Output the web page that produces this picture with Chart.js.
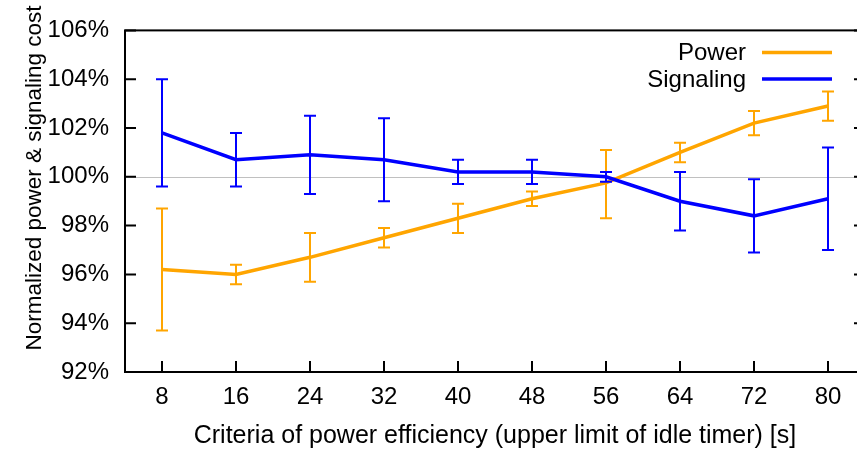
<!DOCTYPE html>
<html>
<head>
<meta charset="utf-8">
<title>Normalized power & signaling cost</title>
<script src="https://cdn.jsdelivr.net/npm/chart.js@4.4.1/dist/chart.umd.min.js"></script>
<style>
    html, body { margin: 0; padding: 0; background: #fff; overflow: hidden; }
    #wrap { width: 857px; height: 450px; overflow: hidden; }
    canvas { display: block; }
</style>
</head>
<body>
<div id="wrap"><canvas id="costChart" width="880" height="450"></canvas></div>
<script>
// upper limit of idle timer [s]
const timerLimits = [8, 16, 24, 32, 40, 48, 56, 64, 72, 80];

// normalized power cost [%] with error range
const powerCost = [96.2, 96.0, 96.7, 97.5, 98.3, 99.1, 99.75, 101.0, 102.2, 102.9];
const powerLow  = [93.7, 95.6, 95.7, 97.1, 97.7, 98.8, 98.3, 100.6, 101.7, 102.3];
const powerHigh = [98.7, 96.4, 97.7, 97.9, 98.9, 99.4, 101.1, 101.4, 102.7, 103.5];

// normalized signaling cost [%] with error range
const signalingCost = [101.8, 100.7, 100.9, 100.7, 100.2, 100.2, 100.0, 99.0, 98.4, 99.1];
const signalingLow  = [99.6, 99.6, 99.3, 99.0, 99.7, 99.7, 99.8, 97.8, 96.9, 97.0];
const signalingHigh = [104.0, 101.8, 102.5, 102.4, 100.7, 100.7, 100.2, 100.2, 99.9, 101.2];

const yTickValues = [92, 94, 96, 98, 100, 102, 104, 106];

const FONT = '"Liberation Sans", Arial, Helvetica, sans-serif';
const ORANGE = '#FFA500';
const BLUE = '#0000FF';

function toPoints(values) {
    return timerLimits.map((x, i) => ({ x: x, y: values[i] }));
}

// frame, mirrored ticks, 100% line, error bars, key and y label
const gnuplotLook = {
    id: 'gnuplotLook',
    beforeDatasetsDraw(chart) {
        const { ctx, chartArea } = chart;
        const y100 = chart.scales.y.getPixelForValue(100);
        ctx.save();
        ctx.strokeStyle = '#c0c0c0';
        ctx.lineWidth = 1;
        ctx.beginPath();
        ctx.moveTo(chartArea.left, Math.round(y100) + 0.5);
        ctx.lineTo(chartArea.right, Math.round(y100) + 0.5);
        ctx.stroke();
        ctx.restore();
    },
    beforeDatasetDraw(chart, args) {
        const ds = chart.data.datasets[args.index];
        if (!ds.errLow) return;
        const { ctx } = chart;
        const xs = chart.scales.x;
        const ys = chart.scales.y;
        ctx.save();
        ctx.strokeStyle = ds.borderColor;
        ctx.lineWidth = 2;
        ds.data.forEach((pt, i) => {
            const px = xs.getPixelForValue(pt.x);
            const top = ys.getPixelForValue(ds.errHigh[i]);
            const bot = ys.getPixelForValue(ds.errLow[i]);
            ctx.beginPath();
            ctx.moveTo(px, top);
            ctx.lineTo(px, bot);
            ctx.moveTo(px - 6, top);
            ctx.lineTo(px + 6, top);
            ctx.moveTo(px - 6, bot);
            ctx.lineTo(px + 6, bot);
            ctx.stroke();
        });
        ctx.restore();
    },
    afterDatasetsDraw(chart) {
        const { ctx, chartArea } = chart;
        const { left, right, top, bottom } = chartArea;
        const xs = chart.scales.x;
        const ys = chart.scales.y;
        ctx.save();
        ctx.strokeStyle = '#000';
        ctx.lineWidth = 2;
        ctx.strokeRect(left, top, right - left, bottom - top);

        const tick = 11;
        ctx.beginPath();
        ys.ticks.forEach(t => {
            const py = ys.getPixelForValue(t.value);
            ctx.moveTo(left, py);
            ctx.lineTo(left + tick, py);
            ctx.moveTo(right, py);
            ctx.lineTo(right - tick, py);
        });
        xs.ticks.forEach(t => {
            const px = xs.getPixelForValue(t.value);
            ctx.moveTo(px, bottom);
            ctx.lineTo(px, bottom - tick);
        });
        ctx.stroke();

        // key, top right
        ctx.font = '24px ' + FONT;
        ctx.textAlign = 'right';
        ctx.textBaseline = 'middle';
        const keyRows = [52.5, 79];
        chart.data.datasets.forEach((ds, i) => {
            const ky = keyRows[i];
            ctx.fillStyle = '#000';
            ctx.fillText(ds.label, 746, ky + 1);
            ctx.strokeStyle = ds.borderColor;
            ctx.lineWidth = ds.borderWidth;
            ctx.beginPath();
            ctx.moveTo(762, ky);
            ctx.lineTo(832, ky);
            ctx.stroke();
        });

        // y axis label
        ctx.translate(35, 178);
        ctx.rotate(-Math.PI / 2);
        ctx.font = '22.5px ' + FONT;
        ctx.textAlign = 'center';
        ctx.fillStyle = '#000';
        ctx.fillText('Normalized power & signaling cost', 0, 0);
        ctx.restore();
    }
};

new Chart(document.getElementById('costChart'), {
    type: 'line',
    data: {
        datasets: [
            {
                label: 'Power',
                data: toPoints(powerCost),
                errLow: powerLow,
                errHigh: powerHigh,
                borderColor: ORANGE,
                borderWidth: 3.5,
                pointRadius: 0,
                fill: false,
                tension: 0,
                order: 2
            },
            {
                label: 'Signaling',
                data: toPoints(signalingCost),
                errLow: signalingLow,
                errHigh: signalingHigh,
                borderColor: BLUE,
                borderWidth: 3.5,
                pointRadius: 0,
                fill: false,
                tension: 0,
                order: 1
            }
        ]
    },
    options: {
        responsive: false,
        animation: false,
        devicePixelRatio: 1,
        layout: {
            padding: { top: 29, right: 15, left: 0, bottom: 0 }
        },
        plugins: {
            legend: { display: false },
            tooltip: { enabled: false }
        },
        scales: {
            x: {
                type: 'linear',
                min: 4,
                max: 84,
                afterBuildTicks: scale => {
                    scale.ticks = timerLimits.map(v => ({ value: v }));
                },
                afterFit: scale => { scale.height = 78; },
                grid: { display: false, drawTicks: false },
                border: { display: false },
                ticks: {
                    padding: 11,
                    color: '#000',
                    font: { family: FONT, size: 24 },
                    maxRotation: 0
                },
                title: {
                    display: true,
                    text: 'Criteria of power efficiency (upper limit of idle timer) [s]',
                    color: '#000',
                    font: { family: FONT, size: 25, lineHeight: 1.1 },
                    padding: { top: 0, bottom: 0 }
                }
            },
            y: {
                min: 92,
                max: 106,
                afterBuildTicks: scale => {
                    scale.ticks = yTickValues.map(v => ({ value: v }));
                },
                afterFit: scale => { scale.width = 125; },
                grid: { display: false, drawTicks: false },
                border: { display: false },
                ticks: {
                    padding: 16,
                    color: '#000',
                    font: { family: FONT, size: 24 },
                    callback: v => v + '%'
                }
            }
        }
    },
    plugins: [gnuplotLook]
});
</script>
</body>
</html>
